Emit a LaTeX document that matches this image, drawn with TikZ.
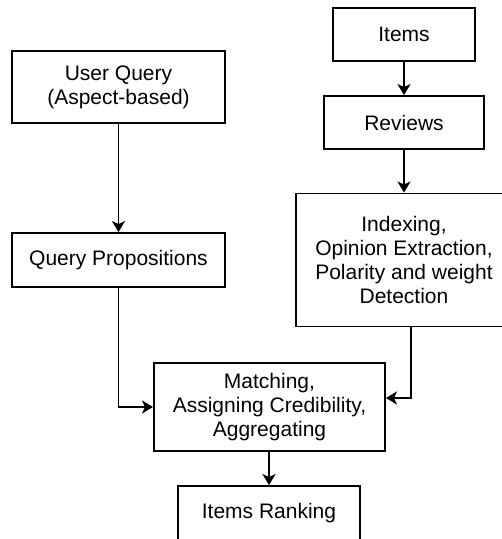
\documentclass[tikz,border=0pt]{standalone}
\usepackage{fontspec}
\setmainfont{Liberation Sans}
\usetikzlibrary{arrows.meta,calc}
\begin{document}
\begin{tikzpicture}[x=1pt,y=-1pt,
  box/.style={draw=black,line width=1.9pt,rectangle,inner sep=0pt,
    align=center,font=\fontsize{21pt}{24pt}\selectfont},
  flow/.style={draw=black,line width=1.9pt,
    -{Stealth[length=11pt,width=13pt,inset=3pt]}}]
\clip (0,0) rectangle (502,539);
\fill[white] (0,0) rectangle (502,539);

% right column: items and their reviews
\node[box,minimum width=142pt,minimum height=53pt] (items) at (404,34.5) {Items};
\node[box,minimum width=160pt,minimum height=53pt] (reviews) at (404,122.5) {Reviews};
\node[box,minimum width=216pt,minimum height=133pt] (index) at (404,260)
  {Indexing,\\Opinion Extraction,\\Polarity and weight\\Detection};

% left column: the query
\node[box,minimum width=213pt,minimum height=72pt] (query) at (118.5,87)
  {User Query\\(Aspect-based)};
\node[box,minimum width=213pt,minimum height=54pt] (props) at (118.5,260)
  {Query Propositions};

% merging and output
\node[box,minimum width=231pt,minimum height=88pt] (match) at (269.5,407)
  {Matching,\\Assigning Credibility,\\Aggregating};
\node[box,minimum width=182pt,minimum height=54pt] (rank) at (269,513)
  {Items Ranking};

\coordinate (idxout) at ($(index.south)+(7,0)$);
\coordinate (matchin) at ($(match.east)+(0,-9)$);

\draw[flow] (items) -- (reviews);
\draw[flow] (reviews) -- (index);
\draw[flow] (query) -- (props);
\draw[flow] (props.south) |- (match.west);
\draw[flow] (idxout) |- (matchin);
\draw[flow] (match.south -| rank.north) -- (rank.north);
\end{tikzpicture}
\end{document}
